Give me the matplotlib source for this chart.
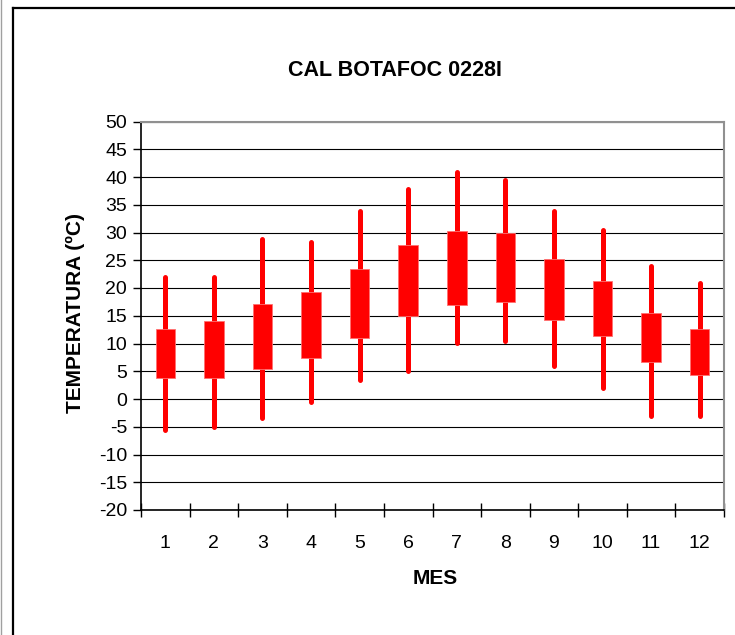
import matplotlib
matplotlib.use("Agg")
import matplotlib.pyplot as plt
from matplotlib.lines import Line2D
import numpy as np

# Monthly temperature summary (ºC): box between box_low/box_high, whiskers min/max
months = [1, 2, 3, 4, 5, 6, 7, 8, 9, 10, 11, 12]
month_labels = ["1", "2", "3", "4", "5", "6", "7", "8", "9", "10", "11", "12"]
t_max = [21.9, 21.9, 28.9, 28.3, 33.9, 37.9, 40.9, 39.4, 33.9, 30.5, 23.9, 20.9]
t_min = [-5.5, -5.0, -3.5, -0.6, 3.5, 5.0, 10.1, 10.5, 5.9, 2.0, -3.0, -3.0]
box_low = [3.7, 3.7, 5.4, 7.3, 11.0, 14.9, 17.0, 17.4, 14.2, 11.4, 6.7, 4.3]
box_high = [12.6, 14.1, 17.1, 19.2, 23.4, 27.8, 30.3, 30.0, 25.3, 21.3, 15.5, 12.6]
y_ticks = list(range(-20, 55, 5))

W, H = 735, 635
plt.rcParams['font.family'] = ['Liberation Sans', 'DejaVu Sans']

fig = plt.figure(figsize=(W / 100, H / 100), dpi=100)
ax = fig.add_axes([141 / W, 1 - 510 / H, (724 - 141) / W, (510 - 121.5) / H])

x = np.array(months)
lo = np.array(box_low)
hi = np.array(box_high)

# whiskers
wh = ax.vlines(x, t_min, t_max, colors='#ff0000', linewidth=3.6, zorder=3)
wh.set_capstyle('round')
# boxes
ax.bar(x, hi - lo, bottom=lo, width=0.4, color='#ff0000',
       edgecolor='#ff7070', linewidth=0.6, zorder=4)

ax.set_xlim(0.5, 12.5)
ax.set_ylim(-20, 50)
ax.set_yticks(y_ticks)
ax.set_yticklabels([str(v) for v in y_ticks], fontsize=14)
ax.set_xticks(x)
ax.set_xticklabels(month_labels, fontsize=14)
ax.set_xticks(np.arange(0.5, 13, 1), minor=True)
ax.tick_params(axis='x', which='major', length=0, pad=18)
ax.tick_params(axis='x', which='minor', direction='inout', length=10, width=1, color='black')
ax.tick_params(axis='y', direction='out', length=6, width=1, color='black', pad=4)

ax.grid(axis='y', color='black', linewidth=0.8, zorder=0)
ax.set_axisbelow(True)

for s in ['top', 'right']:
    ax.spines[s].set_color('#909090')
    ax.spines[s].set_linewidth(1.5)
for s in ['left', 'bottom']:
    ax.spines[s].set_color('black')
    ax.spines[s].set_linewidth(1.2)

fig.text(395 / W, 1 - 70 / H, "CAL BOTAFOC 0228I", ha='center', va='center',
         fontsize=15.5, fontweight='bold')
fig.text(435 / W, 1 - 578 / H, "MES", ha='center', va='center',
         fontsize=15, fontweight='bold')
fig.text(75 / W, 1 - 313 / H, "TEMPERATURA (ºC)", ha='center', va='center',
         rotation=90, fontsize=15, fontweight='bold')

# outer chart frame
fig.add_artist(Line2D([12.5 / W, 1], [1 - 8 / H, 1 - 8 / H], color='black', linewidth=1.6))
fig.add_artist(Line2D([12.5 / W, 12.5 / W], [0, 1 - 8 / H], color='black', linewidth=1.6))
fig.add_artist(Line2D([1 / W, 1 / W], [0, 1], color='#a0a0a0', linewidth=1.0))

fig.savefig("out.png", dpi=100)
